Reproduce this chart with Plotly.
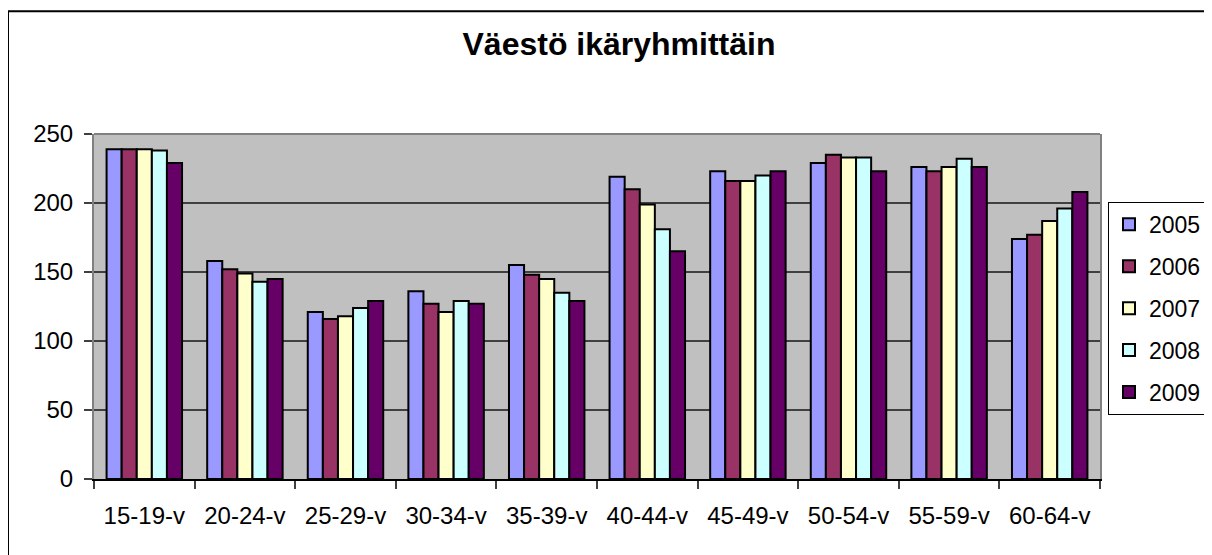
import plotly.graph_objects as go

categories = ["15-19-v", "20-24-v", "25-29-v", "30-34-v", "35-39-v",
              "40-44-v", "45-49-v", "50-54-v", "55-59-v", "60-64-v"]
years = ["2005", "2006", "2007", "2008", "2009"]
v2005 = [239, 158, 121, 136, 155, 219, 223, 229, 226, 174]
v2006 = [239, 152, 116, 127, 148, 210, 216, 235, 223, 177]
v2007 = [239, 149, 118, 121, 145, 199, 216, 233, 226, 187]
v2008 = [238, 143, 124, 129, 135, 181, 220, 233, 232, 196]
v2009 = [229, 145, 129, 127, 129, 165, 223, 223, 226, 208]
series = [v2005, v2006, v2007, v2008, v2009]
colors = ["#9999FF", "#993366", "#FFFFCC", "#CCFFFF", "#660066"]

OFF = 8  # page offset of the figure div
W, H = 1212 - OFF, 555 - OFF
# plot area in page pixels: x 94..1100, y 134..479.5
ML = 94 - OFF
MT = 134 - OFF
MR = W - (1100 - OFF)
MB = H - (479.5 - OFF)
pw = W - ML - MR
ph = H - MT - MB

def px_x(p):
    return (p - OFF - ML) / pw

def px_y(p):
    return (H - MB - (p - OFF)) / ph

fig = go.Figure()
for name, vals, col in zip(years, series, colors):
    fig.add_trace(go.Bar(
        x=categories, y=vals, name=name, legendgroup=name,
        marker=dict(color=col, line=dict(color="black", width=2)),
    ))

font = "Liberation Sans, Arial, sans-serif"
fig.update_layout(
    width=W, height=H,
    margin=dict(l=ML, r=MR, t=MT, b=MB, autoexpand=False),
    paper_bgcolor="white",
    plot_bgcolor="#C0C0C0",
    barmode="group", bargap=0.25, bargroupgap=0,
    font=dict(family=font, size=24, color="black"),
    title=dict(text="Väestö ikäryhmittäin", x=(619 - OFF) / W, xanchor="center",
               xref="container", yref="container", y=1 - (44 - OFF) / H, yanchor="middle",
               font=dict(family=font, size=32, color="black", weight="bold")),
    xaxis=dict(type="category", showgrid=False, ticks="outside", tickson="boundaries",
               ticklen=8, tickcolor="#404040", tickwidth=1.5,
               showline=True, linecolor="black", linewidth=2,
               tickfont=dict(size=24), ticklabelstandoff=14),
    yaxis=dict(range=[0, 250], dtick=50, tick0=0, showgrid=True,
               gridcolor="#404040", gridwidth=1.5, zeroline=False,
               ticks="outside", ticklen=8, tickcolor="#404040", tickwidth=1.5,
               showline=True, linecolor="#808080", linewidth=2, mirror=True,
               tickfont=dict(size=24), ticklabelstandoff=6),
    legend=dict(x=px_x(1108), y=px_y(202), xanchor="left", yanchor="top",
                bgcolor="white", bordercolor="black", borderwidth=1,
                font=dict(size=23), tracegroupgap=9, itemclick=False),
    showlegend=True,
    shapes=[
        dict(type="line", xref="paper", yref="paper", x0=0, x1=1, y0=1, y1=1,
             line=dict(color="#808080", width=2), layer="above"),
        dict(type="rect", xref="paper", yref="paper",
             x0=px_x(8), x1=px_x(1240), y0=px_y(570), y1=px_y(11),
             line=dict(color="black", width=2), fillcolor="rgba(0,0,0,0)", layer="below"),
    ],
)

fig.write_html("out.html")
